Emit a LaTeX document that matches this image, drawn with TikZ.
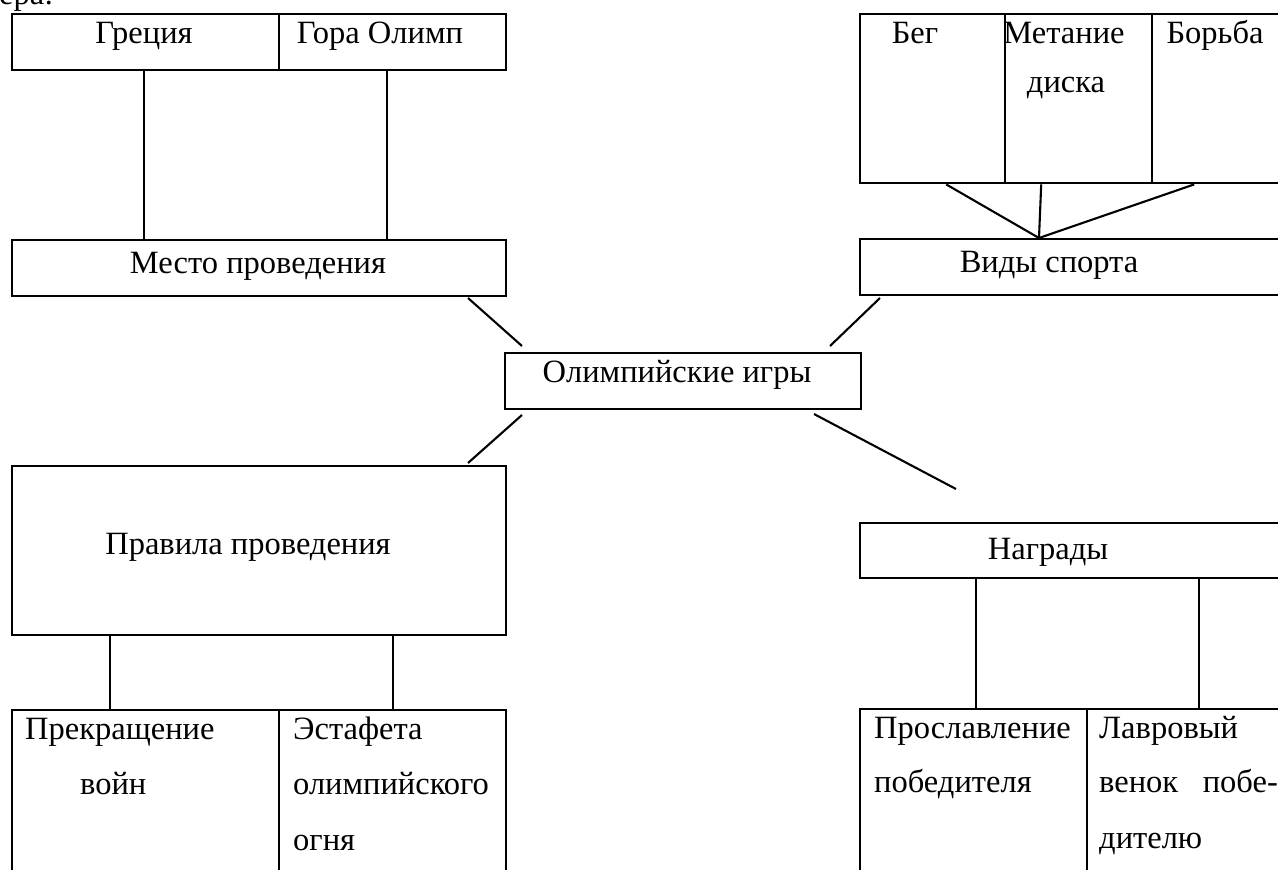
\documentclass[tikz,border=0pt]{standalone}
\usepackage{fontspec}
\setmainfont{Liberation Serif}
\begin{document}
\begin{tikzpicture}[x=1pt,y=-1pt,
  box/.style={draw, line width=2.4pt, rectangle, inner sep=0pt},
  conn/.style={line width=2.1pt},
  txt/.style={inner sep=0pt, font=\fontsize{32.5pt}{39pt}\selectfont}]
\useasboundingbox (0,0) rectangle (1278,870);
\newcommand{\mybox}[5]{\node[box, anchor=north west, minimum width={#4-#2}, minimum height={#5-#3}] (#1) at (#2,#3) {};}
% boxes
\mybox{grec}{11}{13}{278}{69}
\mybox{gora}{278}{13}{505}{69}
\mybox{mesto}{11}{239}{505}{295}
\mybox{beg}{859}{13}{1004}{182}
\mybox{metan}{1004}{13}{1151}{182}
\mybox{borba}{1151}{13}{1320}{182}
\mybox{vidy}{859}{238}{1320}{294}
\mybox{oi}{504}{352}{860}{408}
\mybox{prav}{11}{465}{505}{634}
\mybox{nagr}{859}{522}{1320}{577}
\mybox{prekr}{11}{709}{278}{900}
\mybox{estaf}{278}{709}{505}{900}
\mybox{prosl}{859}{708}{1086}{900}
\mybox{lavr}{1086}{708}{1320}{900}
% texts
\node[txt, anchor=base west] (cut) at (-1,5) {ера:};
\node[txt, anchor=base] (tgrec) at (144,43) {Греция};
\node[txt, anchor=base] (tgora) at (380,43) {Гора Олимп};
\node[txt, anchor=base] (tmesto) at (258,273) {Место проведения};
\node[txt, anchor=base] (tbeg) at (915,43) {Бег};
\node[txt, anchor=base] (tmet1) at (1064,43) {Метание};
\node[txt, anchor=base] (tmet2) at (1066,92) {диска};
\node[txt, anchor=base] (tborba) at (1215,43) {Борьба};
\node[txt, anchor=base] (tvidy) at (1049,272) {Виды спорта};
\node[txt, anchor=base] (toi) at (677,382) {Олимпийские игры};
\node[txt, anchor=base] (tprav) at (248,554) {Правила проведения};
\node[txt, anchor=base] (tnagr) at (1048,559) {Награды};
\node[txt, anchor=base west] (tpr1) at (25,739) {Прекращение};
\node[txt, anchor=base west] (tpr2) at (80,794) {войн};
\node[txt, anchor=base west] (tes1) at (293,739) {Эстафета};
\node[txt, anchor=base west] (tes2) at (293,794) {олимпийского};
\node[txt, anchor=base west] (tes3) at (293,850) {огня};
\node[txt, anchor=base west] (tps1) at (874,738) {Прославление};
\node[txt, anchor=base west] (tps2) at (874,792) {победителя};
\node[txt, anchor=base west] (tlv1) at (1099,738) {Лавровый};
\node[txt, anchor=base west] (tlv2) at (1099,792) {венок};
\node[txt, anchor=base east] (tlv3) at (1278,792) {побе-};
\node[txt, anchor=base west] (tlv4) at (1099,848) {дителю};
% connector end points
\coordinate (vj) at (1039,238);
\coordinate (d1a) at (468,298); \coordinate (d1b) at (522,346);
\coordinate (d2a) at (880,298); \coordinate (d2b) at (830,346);
\coordinate (d3a) at (522,415); \coordinate (d3b) at (468,463);
\coordinate (d4a) at (814,414); \coordinate (d4b) at (956,489);
% connectors
\draw[conn] ([xshift=-1.5pt]grec.south) -- ([xshift=-1.5pt]grec.south |- mesto.north);
\draw[conn] ([xshift=-5.5pt]gora.south) -- ([xshift=-5.5pt]gora.south |- mesto.north);
\draw[conn] ([xshift=13.5pt]beg.south) -- (vj);
\draw[conn] ([xshift=-37.5pt]metan.south) -- (vj);
\draw[conn] ([xshift=-42.5pt]borba.south) -- (vj);
\draw[conn] (d1a) -- (d1b);
\draw[conn] (d2a) -- (d2b);
\draw[conn] (d3a) -- (d3b);
\draw[conn] (d4a) -- (d4b);
\draw[conn] ([xshift=-149pt]prav.south) -- ([xshift=-149pt]prav.south |- prekr.north);
\draw[conn] ([xshift=134pt]prav.south) -- ([xshift=134pt]prav.south |- estaf.north);
\draw[conn] ([xshift=-114.5pt]nagr.south) -- ([xshift=-114.5pt]nagr.south |- prosl.north);
\draw[conn] ([xshift=108.5pt]nagr.south) -- ([xshift=108.5pt]nagr.south |- lavr.north);
\end{tikzpicture}
\end{document}
